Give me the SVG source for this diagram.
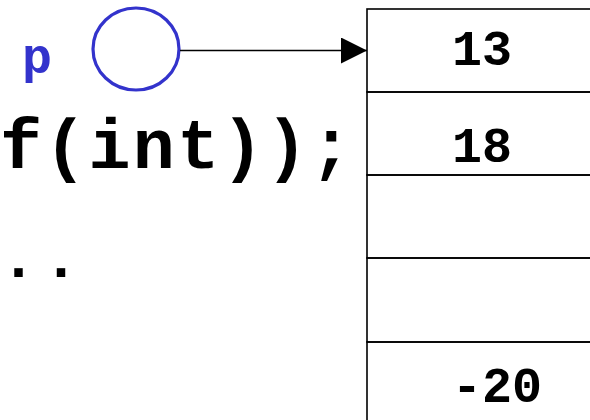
<svg xmlns="http://www.w3.org/2000/svg" width="590" height="420" viewBox="0 0 590 420">
<style>
.code{font-family:"Liberation Mono","Courier New",monospace;font-weight:bold;fill:#000}
.num{font-family:"Liberation Mono","Courier New",monospace;font-weight:bold;font-size:50px;fill:#000}
.cell{fill:none;stroke:#000;stroke-width:1.6}
</style>
<defs>
<marker id="ah" markerWidth="26" markerHeight="26" refX="26" refY="13" markerUnits="userSpaceOnUse" orient="auto">
<path d="M0,0 L26,13 L0,26 Z" fill="#000"/>
</marker>
</defs>
<rect width="590" height="420" fill="#fff"/>
<text class="code" x="0" y="168" font-size="70" textLength="352">f(int));</text>
<text class="code" x="18.5 61" y="277" font-size="60" text-anchor="middle">..</text>
<g id="p">
<text x="37" y="73" text-anchor="middle" font-family="Liberation Mono, Courier New, monospace" font-weight="bold" font-size="50" fill="#3333cc">p</text>
<ellipse cx="136" cy="49" rx="43" ry="41" fill="none" stroke="#3333cc" stroke-width="3.2"/>
</g>
<g id="array">
<rect class="cell" x="367" y="9" width="240" height="83"/>
<rect class="cell" x="367" y="92" width="240" height="83"/>
<rect class="cell" x="367" y="175" width="240" height="83"/>
<rect class="cell" x="367" y="258" width="240" height="84"/>
<rect class="cell" x="367" y="342" width="240" height="90"/>
<text class="num" x="452" y="65">13</text>
<text class="num" x="452" y="162">18</text>
<text class="num" x="452" y="402">-20</text>
</g>
<g id="connectors">
<line x1="180" y1="50.5" x2="367" y2="50.5" stroke="#000" stroke-width="1.6" marker-end="url(#ah)"/>
</g>
</svg>
